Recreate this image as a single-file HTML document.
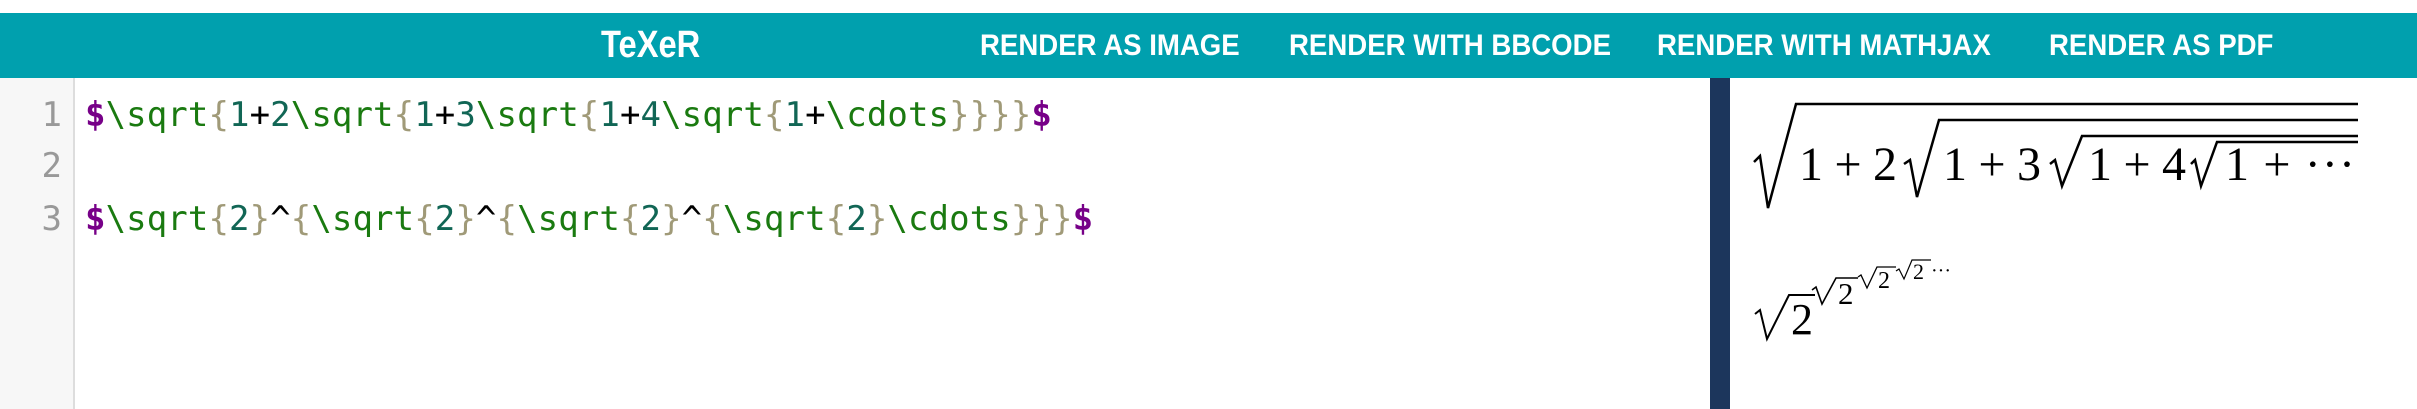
<!DOCTYPE html>
<html><head><meta charset="utf-8"><style>
body{margin:0;width:2417px;height:409px;overflow:hidden;background:#fff;position:relative;font-family:"Liberation Sans",sans-serif}
.hdr{position:absolute;left:0;top:13px;width:2417px;height:65px;background:#00a0ae}
.t{position:absolute;color:#fff;font-weight:bold;white-space:nowrap;transform-origin:0 50%}
.gut{position:absolute;left:0;top:78px;width:73px;height:331px;background:#f7f7f7;border-right:2px solid #ddd}
.ln{position:absolute;width:62px;text-align:right;color:#999;font:34px "DejaVu Sans Mono",monospace}
.code{position:absolute;left:85px;font:34px "DejaVu Sans Mono",monospace;white-space:pre;letter-spacing:0.1px}
.d{color:#708;font-weight:bold}.k{color:#1a7a10}.b{color:#a09a78}.n{color:#165}.p{color:#000}
.bar{position:absolute;left:1710px;top:78px;width:20px;height:331px;background:#1c365c}
</style></head><body>
<div class="hdr"></div>
<div class="t" style="left:601px;top:24px;font-size:38px;transform:scaleX(0.86)">TeXeR</div>
<div class="t" style="left:980px;top:29px;font-size:30px;transform:scaleX(0.92)">RENDER AS IMAGE</div>
<div class="t" style="left:1289px;top:29px;font-size:30px;transform:scaleX(0.92)">RENDER WITH BBCODE</div>
<div class="t" style="left:1657px;top:29px;font-size:30px;transform:scaleX(0.92)">RENDER WITH MATHJAX</div>
<div class="t" style="left:2049px;top:29px;font-size:30px;transform:scaleX(0.92)">RENDER AS PDF</div>
<div class="gut"></div>
<div class="ln" style="top:95px">1</div>
<div class="ln" style="top:146px">2</div>
<div class="ln" style="top:199px">3</div>
<div class="code" style="top:95px"><span class="d">$</span><span class="k">\sqrt</span><span class="b">{</span><span class="n">1</span><span class="p">+</span><span class="n">2</span><span class="k">\sqrt</span><span class="b">{</span><span class="n">1</span><span class="p">+</span><span class="n">3</span><span class="k">\sqrt</span><span class="b">{</span><span class="n">1</span><span class="p">+</span><span class="n">4</span><span class="k">\sqrt</span><span class="b">{</span><span class="n">1</span><span class="p">+</span><span class="k">\cdots</span><span class="b">}}}}</span><span class="d">$</span></div>
<div class="code" style="top:199px"><span class="d">$</span><span class="k">\sqrt</span><span class="b">{</span><span class="n">2</span><span class="b">}</span><span class="p">^</span><span class="b">{</span><span class="k">\sqrt</span><span class="b">{</span><span class="n">2</span><span class="b">}</span><span class="p">^</span><span class="b">{</span><span class="k">\sqrt</span><span class="b">{</span><span class="n">2</span><span class="b">}</span><span class="p">^</span><span class="b">{</span><span class="k">\sqrt</span><span class="b">{</span><span class="n">2</span><span class="b">}</span><span class="k">\cdots</span><span class="b">}}}</span><span class="d">$</span></div>
<div class="bar"></div>
<svg style="position:absolute;left:0;top:0" width="2417" height="409">
<g fill="none" stroke="#000" stroke-width="2.5" stroke-linejoin="miter">
<polyline points="1754,162 1760,156 1768,208 1796,104 2358,104"/>
<polyline points="1904,164 1910,160 1917,197 1939,120 2358,120"/>
<polyline points="2050,164 2055,160 2062,186 2082,136 2358,136"/>
<polyline points="2191,164 2195,160 2201,186 2217,142 2358,142"/>
<polyline points="1755,314 1760,310 1767,339 1789,295 1815,295" stroke-width="2"/>
<polyline points="1812,290 1816,287 1822,304 1836,278 1858,278" stroke-width="1.6"/>
<polyline points="1858,277 1861,275 1867,288 1877,267 1896,267" stroke-width="1.3"/>
<polyline points="1896,271 1899,269 1904,279 1912,260 1931,260" stroke-width="1.2"/>
</g>
<g font-family="Liberation Serif,serif" fill="#000">
<text x="1799" y="180" font-size="48" textLength="98" lengthAdjust="spacing">1 + 2</text>
<text x="1943" y="180" font-size="48" textLength="98" lengthAdjust="spacing">1 + 3</text>
<text x="2088" y="180" font-size="48" textLength="98" lengthAdjust="spacing">1 + 4</text>
<text x="2225" y="180" font-size="48" textLength="130" lengthAdjust="spacing">1 + ···</text>
<text x="1791" y="334" font-size="44">2</text>
<text x="1838" y="304" font-size="31">2</text>
<text x="1878" y="288" font-size="24">2</text>
<text x="1913" y="279" font-size="22">2</text>
<text x="1931" y="277" font-size="20">···</text>
</g>
</svg>
</body></html>
